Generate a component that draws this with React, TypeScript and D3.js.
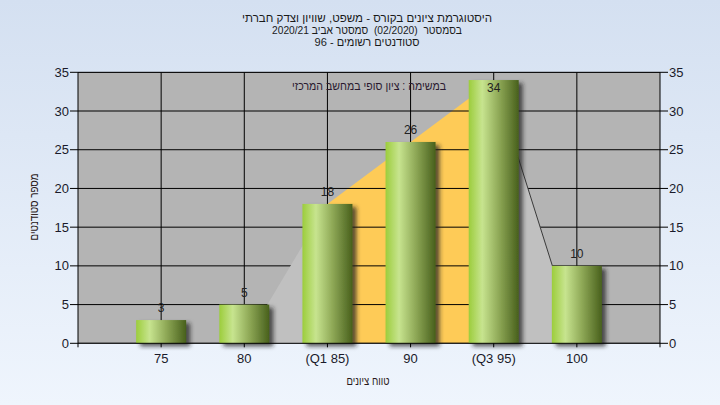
import React from 'react';
import * as d3 from 'd3';

const categories = ['75', '80', '(Q1 85)', '90', '(Q3 95)', '100'];
const counts = [3, 5, 18, 26, 34, 10];
const iqrIndexes = [2, 3, 4];
const tailLeftIndexes = [1, 2];
const tailLeftValues = [0, 18];
const tailRightIndexes = [4, 5];
const tailRightValues = [34, 0];
const yTicks = [0, 5, 10, 15, 20, 25, 30, 35];
const titleLines = [
  'היסטוגרמת ציונים בקורס - משפט, שוויון וצדק חברתי',
  'בסמסטר  (02/2020)  סמסטר אביב 2020/21',
  'סטודנטים רשומים - 96',
];
const subtitle = 'במשימה : ציון סופי במחשב המרכזי';
const yTitle = 'מספר סטודנטים';
const xTitle = 'טווח ציונים';

const W = 720;
const H = 405;
const L = 78;
const R = 660;
const T = 72.3;
const B = 343.3;
const FONT = '"Liberation Sans", Arial, "DejaVu Sans", sans-serif';
const titleWidths = [250, 190, 105];

export default function App() {
  const x = d3.scaleLinear().domain([0, categories.length + 1]).range([L, R]);
  const y = d3.scaleLinear().domain([0, 35]).range([B, T]);
  const cx = (i: number) => x(i + 1);
  const halfW = 25;

  const area = d3
    .area<[number, number]>()
    .x((d) => cx(d[0]))
    .y0(y(0))
    .y1((d) => y(d[1]));

  const iqrPath = area(iqrIndexes.map((i) => [i, counts[i]] as [number, number]));
  const leftPath = area(tailLeftIndexes.map((i, k) => [i, tailLeftValues[k]] as [number, number]));
  const rightPath = area(tailRightIndexes.map((i, k) => [i, tailRightValues[k]] as [number, number]));
  const rightLine = d3
    .line<[number, number]>()
    .x((d) => cx(d[0]))
    .y((d) => y(d[1]))(tailRightIndexes.map((i, k) => [i, tailRightValues[k]] as [number, number]));

  return (
    <div style={{ position: 'fixed', left: 0, top: 0, width: W, height: H }}>
      <svg width={W} height={H} style={{ display: 'block', fontFamily: FONT }}>
        <defs>
          <linearGradient id="bg" x1="0" y1="0" x2="0" y2="1">
            <stop offset="0" stopColor="#d4e0f1" />
            <stop offset="1" stopColor="#eff5fd" />
          </linearGradient>
          <linearGradient id="bar" x1="0" y1="0" x2="1" y2="0">
            <stop offset="0" stopColor="#9ccd3c" />
            <stop offset="0.27" stopColor="#c7e48f" />
            <stop offset="0.6" stopColor="#8fa957" />
            <stop offset="1" stopColor="#48601c" />
          </linearGradient>
          <filter id="shadow" x="-20%" y="-20%" width="150%" height="150%">
            <feDropShadow dx="4" dy="3" stdDeviation="2" floodColor="#202020" floodOpacity="0.75" />
          </filter>
          <clipPath id="plotClip">
            <rect x={L} y={T} width={R - L} height={B - T} />
          </clipPath>
        </defs>
        <rect x={0} y={0} width={W} height={H} fill="url(#bg)" />

        {/* title */}
        {titleLines.map((t, i) => (
          <text
            key={i}
            x={367}
            y={21.5 + i * 12}
            textAnchor="middle"
            fontSize={11}
            fill="#1a1a1a"
            textLength={titleWidths[i]}
            lengthAdjust="spacingAndGlyphs"
            style={{ direction: 'rtl', whiteSpace: 'pre' }}
          >
            {t}
          </text>
        ))}

        {/* plot background */}
        <rect x={L} y={T} width={R - L} height={B - T} fill="#b4b4b4" />

        <g clipPath="url(#plotClip)">
          <path d={iqrPath || ''} fill="#fecb57" />
          {yTicks.map((v) => (
            <line key={'h' + v} x1={L} x2={R} y1={y(v)} y2={y(v)} stroke="#000" strokeWidth={1} />
          ))}
          {categories.map((c, i) => (
            <line key={'v' + c} x1={cx(i)} x2={cx(i)} y1={T} y2={B} stroke="#000" strokeWidth={1} />
          ))}
          <path d={leftPath || ''} fill="#c0c0c0" />
          <path d={rightPath || ''} fill="#c0c0c0" />
          <path d={rightLine || ''} fill="none" stroke="#3a3a3a" strokeWidth={1} />
        </g>

        <text
          x={369}
          y={90}
          textAnchor="middle"
          fontSize={12}
          fill="#2a1a30"
          textLength={154}
          lengthAdjust="spacingAndGlyphs"
          style={{ direction: 'rtl' }}
        >
          {subtitle}
        </text>

        {/* bars */}
        {counts.map((v, i) => (
          <rect
            key={'b' + i}
            x={cx(i) - halfW}
            y={y(v)}
            width={halfW * 2}
            height={y(0) - y(v)}
            fill="url(#bar)"
            filter="url(#shadow)"
          />
        ))}
        {counts.map((v, i) => {
          const top = y(v);
          const above = top - 8;
          const ly = above - 10 < T ? top + 12 : above;
          return (
            <text key={'l' + i} x={cx(i)} y={ly} textAnchor="middle" fontSize={12} fill="#222">
              {v}
            </text>
          );
        })}

        {/* axes */}
        <line x1={L} x2={R} y1={T} y2={T} stroke="#000" />
        <line x1={L} x2={R} y1={B} y2={B} stroke="#000" />
        <line x1={L} x2={L} y1={T} y2={B + 4} stroke="#000" />
        <line x1={R} x2={R} y1={T} y2={B + 4} stroke="#000" />
        {yTicks.map((v) => (
          <g key={'t' + v}>
            <line x1={L - 8} x2={L} y1={y(v)} y2={y(v)} stroke="#000" />
            <text x={L - 9} y={y(v) + 4.5} textAnchor="end" fontSize={13} fill="#1a1a2a">
              {v}
            </text>
            <line x1={R} x2={R + 8} y1={y(v)} y2={y(v)} stroke="#000" />
            <text x={R + 9} y={y(v) + 4.5} textAnchor="start" fontSize={13} fill="#1a1a2a">
              {v}
            </text>
          </g>
        ))}
        {categories.map((c, i) => (
          <g key={'x' + c}>
            <line x1={cx(i)} x2={cx(i)} y1={B} y2={B + 4} stroke="#000" />
            <text x={cx(i)} y={B + 20} textAnchor="middle" fontSize={13} fill="#1a1a2a">
              {c}
            </text>
          </g>
        ))}

        <text
          x={0}
          y={0}
          transform={`translate(38, 207) rotate(-90)`}
          textAnchor="middle"
          fontSize={12}
          fill="#2a1a1a"
          textLength={67}
          lengthAdjust="spacingAndGlyphs"
          style={{ direction: 'rtl' }}
        >
          {yTitle}
        </text>
        <text
          x={368}
          y={385}
          textAnchor="middle"
          fontSize={12}
          fill="#2a1a1a"
          textLength={43}
          lengthAdjust="spacingAndGlyphs"
          style={{ direction: 'rtl' }}
        >
          {xTitle}
        </text>
      </svg>
    </div>
  );
}
